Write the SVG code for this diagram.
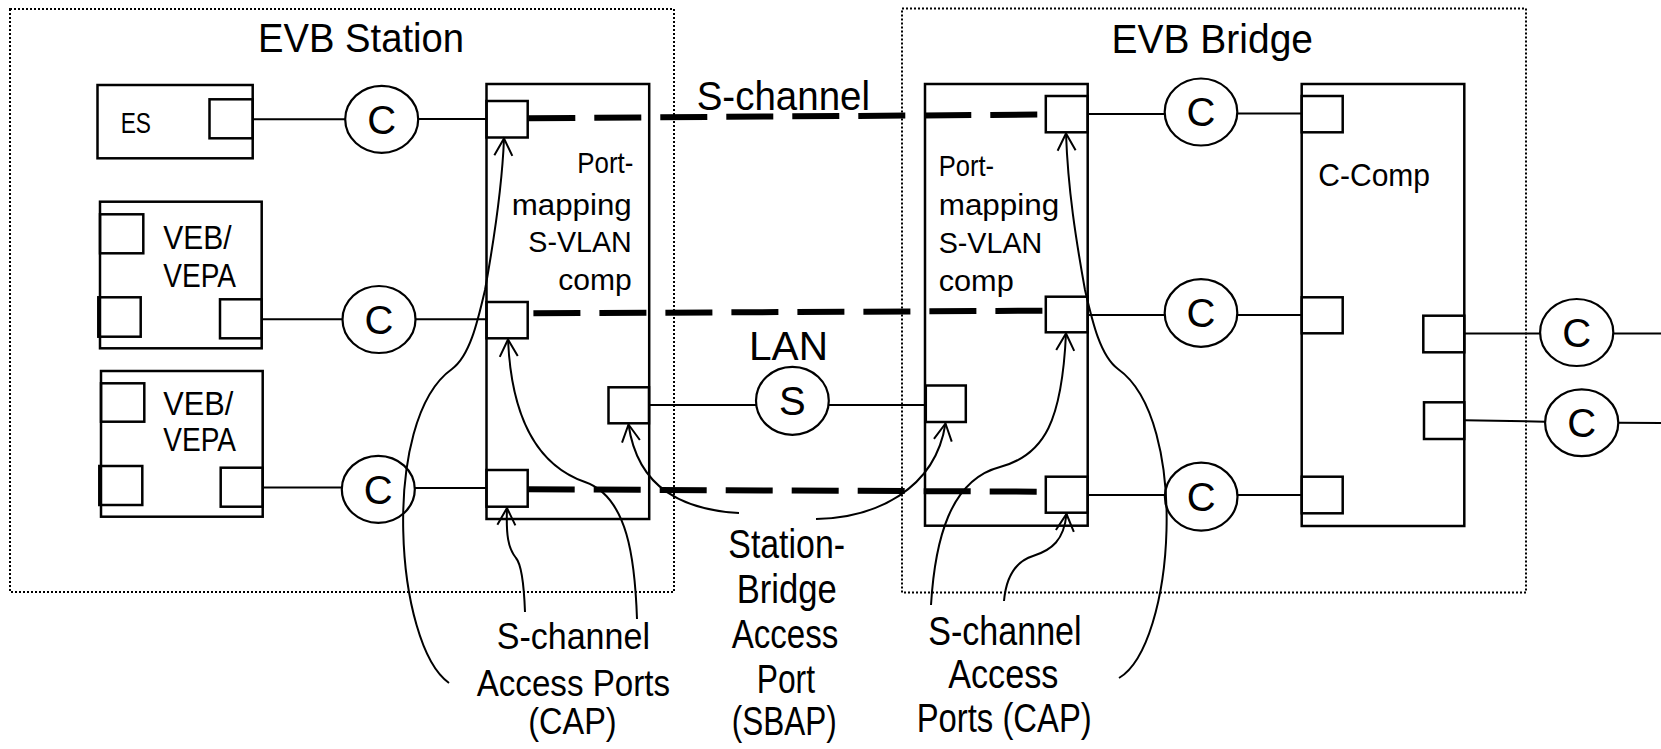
<svg xmlns="http://www.w3.org/2000/svg" width="1661" height="749" viewBox="0 0 1661 749">
<style>
.box{fill:none;stroke:#000;stroke-width:2.5}
.port{fill:none;stroke:#000;stroke-width:2.5}
.ln{fill:none;stroke:#000;stroke-width:2}
.circ{fill:none;stroke:#000;stroke-width:2.2}
.dot{fill:none;stroke:#000;stroke-width:2;stroke-dasharray:2 2}
.dash{fill:none;stroke:#000;stroke-width:6;stroke-dasharray:47 19}
.arr{fill:none;stroke:#000;stroke-width:2;marker-end:url(#ah)}
text{font-family:"Liberation Sans",Arial,sans-serif;fill:#000}
.big{font-size:40px}
.bl{font-size:37px}
.lbl{font-size:30px}
.cl{font-size:40px;text-anchor:middle}
</style>
<defs>
<marker id="ah" viewBox="-19 -11 21 22" refX="0" refY="0" markerWidth="21" markerHeight="22" markerUnits="userSpaceOnUse" orient="auto">
<path d="M-17,-9 L0,0 L-17,9" fill="none" stroke="#000" stroke-width="2"/>
</marker>
</defs>
<rect x="0" y="0" width="1661" height="749" fill="#fff"/>

<g id="evb-station">
<rect class="dot" x="10" y="9" width="664" height="583"/>
<text class="big" x="258" y="52" textLength="206" lengthAdjust="spacingAndGlyphs">EVB Station</text>
</g>
<g id="evb-bridge">
<rect class="dot" x="902" y="8.5" width="624" height="584"/>
<text class="big" x="1111.6" y="53" textLength="201.4" lengthAdjust="spacingAndGlyphs">EVB Bridge</text>
</g>

<g id="es">
<rect class="box" x="97.5" y="85" width="155.2" height="73.3"/>
<rect class="port" x="209.5" y="99.3" width="43.2" height="39"/>
<text x="120.7" y="132.7" textLength="30.3" lengthAdjust="spacingAndGlyphs" style="font-size:29px">ES</text>
</g>

<g id="veb1">
<rect class="box" x="100" y="201.7" width="161.7" height="146.6"/>
<rect class="port" x="100" y="214.3" width="43.3" height="39"/>
<rect class="port" x="98.3" y="297.3" width="42.4" height="39.4"/>
<rect class="port" x="220" y="299.3" width="41.7" height="39"/>
<text style="font-size:33px" x="163.3" y="249.3" textLength="68.3" lengthAdjust="spacingAndGlyphs">VEB/</text>
<text style="font-size:33px" x="163.3" y="287" textLength="72.7" lengthAdjust="spacingAndGlyphs">VEPA</text>
</g>

<g id="veb2">
<rect class="box" x="101" y="371" width="161.7" height="145.7"/>
<rect class="port" x="101" y="383.3" width="43.3" height="38.4"/>
<rect class="port" x="99.3" y="466" width="43" height="39"/>
<rect class="port" x="220.7" y="467.7" width="42" height="39"/>
<text style="font-size:33px" x="163.3" y="415" textLength="70" lengthAdjust="spacingAndGlyphs">VEB/</text>
<text style="font-size:33px" x="163.3" y="451" textLength="72.7" lengthAdjust="spacingAndGlyphs">VEPA</text>
</g>

<g id="station-pm">
<rect class="box" x="486.5" y="84" width="162.7" height="435"/>
<rect class="port" x="486.5" y="101" width="41.2" height="36.5"/>
<rect class="port" x="486.5" y="302" width="41.2" height="36.3"/>
<rect class="port" x="486.5" y="470" width="41.2" height="36.7"/>
<rect class="port" x="608.5" y="387.3" width="40.5" height="36"/>
<text class="lbl" x="577.3" y="173.3" textLength="56" lengthAdjust="spacingAndGlyphs">Port-</text>
<text class="lbl" x="511.7" y="215" textLength="120" lengthAdjust="spacingAndGlyphs">mapping</text>
<text class="lbl" x="528.3" y="251.7" textLength="103.4" lengthAdjust="spacingAndGlyphs">S-VLAN</text>
<text class="lbl" x="558.3" y="290" textLength="73.4" lengthAdjust="spacingAndGlyphs">comp</text>
</g>

<g id="bridge-pm">
<rect class="box" x="925" y="84" width="162.7" height="441.7"/>
<rect class="port" x="1045.8" y="96" width="41.9" height="36.3"/>
<rect class="port" x="1045.8" y="296.7" width="41.9" height="35.6"/>
<rect class="port" x="1045.8" y="476.7" width="41.9" height="36"/>
<rect class="port" x="925.8" y="385.5" width="40" height="36.5"/>
<text class="lbl" x="938.7" y="176" textLength="55.3" lengthAdjust="spacingAndGlyphs">Port-</text>
<text class="lbl" x="938.7" y="214.5" textLength="120.6" lengthAdjust="spacingAndGlyphs">mapping</text>
<text class="lbl" x="938.7" y="253" textLength="103.6" lengthAdjust="spacingAndGlyphs">S-VLAN</text>
<text class="lbl" x="938.7" y="291" textLength="75" lengthAdjust="spacingAndGlyphs">comp</text>
</g>

<g id="c-comp">
<rect class="box" x="1301.7" y="84" width="162.6" height="442"/>
<rect class="port" x="1301.7" y="96" width="41" height="36.3"/>
<rect class="port" x="1301.7" y="297.3" width="41" height="36"/>
<rect class="port" x="1301.7" y="476.7" width="41" height="36.6"/>
<rect class="port" x="1423.3" y="315.7" width="41" height="36.6"/>
<rect class="port" x="1424" y="402.3" width="40.3" height="36.7"/>
<text style="font-size:31px" x="1318.3" y="185.7" textLength="111.7" lengthAdjust="spacingAndGlyphs">C-Comp</text>
</g>

<g id="c-es"><ellipse class="circ" cx="381.7" cy="119.3" rx="36.5" ry="33.5"/><text class="cl" x="381.7" y="133.5">C</text></g>
<g id="c-veb1"><ellipse class="circ" cx="379" cy="319.5" rx="36.5" ry="33.5"/><text class="cl" x="379" y="333.7">C</text></g>
<g id="c-veb2"><ellipse class="circ" cx="378.3" cy="489.3" rx="36.5" ry="33.5"/><text class="cl" x="378.3" y="503.5">C</text></g>
<g id="c-br1"><ellipse class="circ" cx="1201" cy="112" rx="36.3" ry="33.5"/><text class="cl" x="1201" y="126.2">C</text></g>
<g id="c-br2"><ellipse class="circ" cx="1201" cy="313" rx="36.3" ry="33.8"/><text class="cl" x="1201" y="327.2">C</text></g>
<g id="c-br3"><ellipse class="circ" cx="1201.2" cy="496.7" rx="36.3" ry="34"/><text class="cl" x="1201.2" y="510.9">C</text></g>
<g id="c-out1"><ellipse class="circ" cx="1576.7" cy="332.5" rx="36.6" ry="33.5"/><text class="cl" x="1576.7" y="346.7">C</text></g>
<g id="c-out2"><ellipse class="circ" cx="1581.7" cy="422.7" rx="36.6" ry="33.4"/><text class="cl" x="1581.7" y="436.9">C</text></g>
<g id="s-lan"><ellipse class="circ" cx="792.4" cy="400.8" rx="36.4" ry="34"/><text class="cl" x="792.4" y="415.3">S</text></g>

<g id="labels">
<text style="font-size:41px" x="696.7" y="110" textLength="173.3" lengthAdjust="spacingAndGlyphs">S-channel</text>
<text style="font-size:41px" x="749" y="360" textLength="79" lengthAdjust="spacingAndGlyphs">LAN</text>
<text class="bl" x="496.7" y="648.5" textLength="153.3" lengthAdjust="spacingAndGlyphs">S-channel</text>
<text class="bl" x="476.7" y="696" textLength="193.3" lengthAdjust="spacingAndGlyphs">Access Ports</text>
<text class="bl" x="528.3" y="734" textLength="88.4" lengthAdjust="spacingAndGlyphs">(CAP)</text>
<text class="big" x="728.3" y="558.3" textLength="116.7" lengthAdjust="spacingAndGlyphs">Station-</text>
<text class="big" x="736.7" y="603.3" textLength="100" lengthAdjust="spacingAndGlyphs">Bridge</text>
<text class="big" x="731.7" y="648.3" textLength="106.7" lengthAdjust="spacingAndGlyphs">Access</text>
<text class="big" x="756.7" y="693.3" textLength="58.3" lengthAdjust="spacingAndGlyphs">Port</text>
<text class="big" x="731.7" y="735" textLength="105" lengthAdjust="spacingAndGlyphs">(SBAP)</text>
<text class="big" x="928.3" y="645" textLength="153.3" lengthAdjust="spacingAndGlyphs">S-channel</text>
<text class="big" x="948.3" y="688.3" textLength="110" lengthAdjust="spacingAndGlyphs">Access</text>
<text class="big" x="916.7" y="731.7" textLength="175" lengthAdjust="spacingAndGlyphs">Ports (CAP)</text>
</g>

<g id="connectors">
<path class="ln" d="M252.7,119.3 H345.2 M418.2,119 H486.5"/>
<path class="ln" d="M261.7,319.3 H342.5 M415.5,319.3 H486.5"/>
<path class="ln" d="M262.7,487.6 H341.8 M414.8,488 H486.5"/>
<path class="ln" d="M1087.7,114 H1164.7 M1237.3,113.5 H1301.7"/>
<path class="ln" d="M1087.7,315 H1164.7 M1237.3,315 H1301.7"/>
<path class="ln" d="M1087.7,495 H1164.9 M1237.5,495 H1301.7"/>
<path class="ln" d="M1464.3,333.5 H1540.1 M1613.3,333.5 H1661"/>
<path class="ln" d="M1464.3,420.3 L1545.1,421.7 M1618.3,422.7 L1661,423"/>
<path class="ln" d="M649,405 H756 M828.8,405 H925.8"/>
<path class="dash" d="M528.3,118.3 L1046,114.5"/>
<path class="dash" d="M533.4,313.3 L1046,310.7"/>
<path class="dash" d="M527.7,489.3 L1046,491.7"/>
<path class="arr" d="M449,683 C395,645 380,420 452,369 C470,356 478,320 485,290 C494,240 502,190 504,138.5"/>
<path class="arr" d="M637,619 C635,560 628,497 585,482 C545,468 512,430 508,339.5"/>
<path class="arr" d="M525,612 C524,585 522,565 516,558 C508,548 506,535 507,508"/>
<path class="arr" d="M739,513 C685,510 638,490 628.5,424.5"/>
<path class="arr" d="M816,519 C875,518 935,490 945.5,423.5"/>
<path class="arr" d="M1119,678 C1175,645 1190,420 1118,369 C1100,356 1092,320 1085,290 C1076,240 1068,190 1066,133.5"/>
<path class="arr" d="M931,605 C935,540 950,480 1000,467 C1045,455 1062,420 1066,333.5"/>
<path class="arr" d="M1004,601 C1006,578 1014,562 1033,556 C1052,550 1064,540 1066.5,514"/>
</g>
</svg>
